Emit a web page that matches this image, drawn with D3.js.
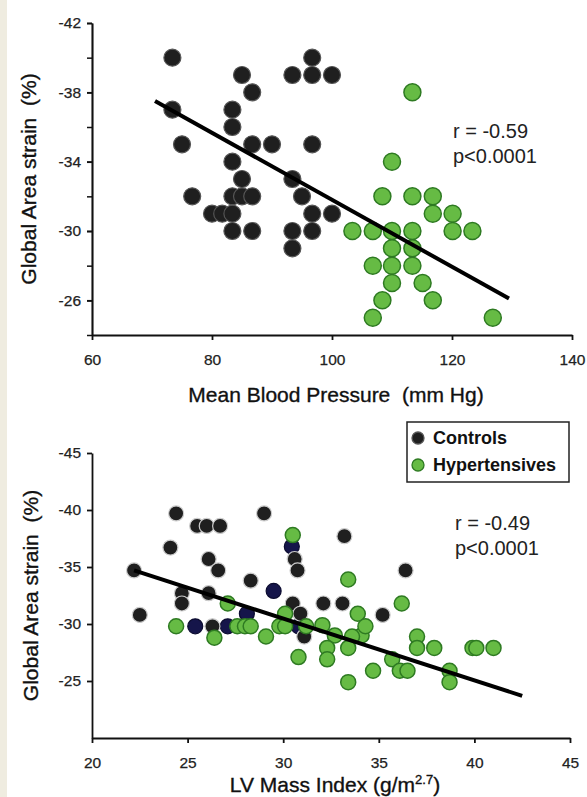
<!DOCTYPE html>
<html>
<head>
<meta charset="utf-8">
<script src="https://cdn.jsdelivr.net/npm/d3@7"></script>
<style>
  body { margin: 0; background: #fff; }
  svg { display: block; font-family: "Liberation Sans", Arial, sans-serif; }
  text { white-space: pre; }
</style>
</head>
<body>
<svg id="chart" width="587" height="797"></svg>
<script>
// top panel: mean blood pressure vs global area strain
const bpControls = [
  [73.4,-40],[85,-39],[93.4,-39],[96.7,-40],[96.7,-39],[100,-39],[86.7,-38],[73.4,-37],
  [83.4,-37],[83.4,-36],[75,-35],[86.7,-35],[90,-35],[96.7,-35],[83.4,-34],[85,-33],
  [93.4,-33],[76.7,-32],[83.4,-32],[85,-32],[86.7,-32],[95,-32],[80,-31],[81.7,-31],
  [83.4,-31],[96.7,-31],[100,-31],[83.4,-30],[86.7,-30],[93.4,-30],[96.7,-30],[93.4,-29]
];
const bpHypertensives = [
  [113.4,-38],[110,-34],[108.4,-32],[113.4,-32],[116.8,-32],[116.8,-31],[120.1,-31],
  [103.4,-30],[106.8,-30],[110,-30],[113.4,-30],[120.1,-30],[123.4,-30],[110,-29],
  [113.4,-29],[106.8,-28],[110,-28],[113.4,-28],[110,-27],[115.1,-27],[108.4,-26],
  [116.8,-26],[106.8,-25],[126.8,-25]
];
const bpFit = [[70.5,-37.5],[129.5,-26.1]];
const bpTicksX = [60,80,100,120,140];
const bpTicksY = [-42,-38,-34,-30,-26];
const bpMinorY = [-42,-40,-38,-36,-34,-32,-30,-28,-26,-24];
const bpStats = ["r = -0.59", "p<0.0001"];

// bottom panel: LV mass index vs global area strain
const lvControls = [
  [22.2,-34.7],[22.5,-30.8],[24.4,-39.7],[24.1,-36.7],[25.5,-38.6],[26,-38.6],[26.7,-38.6],
  [26.1,-35.7],[26.6,-34.7],[24.7,-32.7],[24.7,-31.8],[26.1,-32.7],[29,-39.7],[28.3,-33.8],
  [26.3,-29.8],[30.6,-35.7],[30.75,-34.7],[30.5,-31.8],[30.9,-30.9],[31.1,-28.9],
  [32.1,-31.8],[33.1,-31.8],[33.2,-37.7],[36.4,-34.7],[35.2,-30.8]
];
const lvHidden = [
  [25.4,-29.8],[27.1,-29.8],[29.5,-32.9],[30.45,-36.8],[28.1,-30.9],[30.8,-29.8]
];
const lvHypertensives = [
  [24.4,-29.8],[26.4,-28.8],[27.1,-31.8],[27.6,-29.8],[28,-29.8],[28.3,-29.8],[29.1,-28.9],
  [29.8,-29.8],[30.1,-30.9],[30.5,-37.8],[30.1,-29.8],[31.2,-29.8],[30.8,-27.1],[32.05,-29.9],
  [32.7,-29],[32.3,-27.9],[32.3,-26.9],[33.4,-33.9],[33.9,-30.9],[34.1,-29],[34.3,-29.8],
  [33.6,-28.9],[33.4,-27.9],[33.4,-24.9],[34.7,-25.9],[35.7,-26.9],[36.1,-25.9],[36.5,-25.9],
  [36.2,-31.8],[37,-28.9],[37,-27.9],[37.9,-27.9],[38.7,-25.9],[38.7,-24.9],[39.9,-27.9],
  [40.1,-27.9],[41,-27.9]
];
const lvFit = [[22.2,-34.7],[42.5,-23.7]];
const lvTicksX = [20,25,30,35,40,45];
const lvTicksY = [-45,-40,-35,-30,-25];
const lvStats = ["r = -0.49", "p<0.0001"];

const legendItems = ["Controls", "Hypertensives"];

const BLACK = "#1f1f1f", GREEN = "#66bb44", GREEN_EDGE = "#2e7a22", NAVY = "#15154a";

const svg = d3.select("#chart");
svg.append("rect").attr("width", 587).attr("height", 797).attr("fill", "#fff");
svg.append("rect").attr("width", 7).attr("height", 797).attr("fill", "#efece0");

function panel(cfg) {
  const x = d3.scaleLinear().domain(cfg.xDomain).range(cfg.xRange);
  const y = d3.scaleLinear().domain(cfg.yDomain).range(cfg.yRange);
  const g = svg.append("g");

  // minor y ticks
  if (cfg.minorY) {
    g.append("g").attr("transform", `translate(${cfg.xRange[0]},0)`)
      .call(d3.axisLeft(y).tickValues(cfg.minorY).tickSize(5).tickSizeOuter(0).tickFormat(""))
      .call(a => a.selectAll("line,path").attr("stroke", "#111").attr("stroke-width", 1.5));
  }
  const ya = g.append("g").attr("transform", `translate(${cfg.xRange[0]},0)`)
    .call(d3.axisLeft(y).tickValues(cfg.ticksY).tickSize(5).tickSizeOuter(0).tickPadding(6)
      .tickFormat(d => String(d)));
  const xa = g.append("g").attr("transform", `translate(0,${cfg.yRange[0]})`)
    .call(d3.axisBottom(x).tickValues(cfg.ticksX).tickSize(5).tickSizeOuter(0).tickPadding(14)
      .tickFormat(d => String(d)));
  [ya, xa].forEach(a => {
    a.selectAll("path,line").attr("stroke", "#111").attr("stroke-width", 1.8);
    a.selectAll("text").attr("fill", "#222").attr("font-size", 15.5)
      .attr("stroke", "#222").attr("stroke-width", 0.25)
      .attr("font-family", "Liberation Sans, Arial, sans-serif");
  });

  const r = cfg.r;
  cfg.layers.forEach(l => {
    g.append("g").selectAll("circle").data(l.data).enter().append("circle")
      .attr("cx", d => x(d[0])).attr("cy", d => y(d[1])).attr("r", r)
      .attr("fill", l.fill).attr("stroke", l.stroke).attr("stroke-width", l.sw);
  });

  g.append("line")
    .attr("x1", x(cfg.fit[0][0])).attr("y1", y(cfg.fit[0][1]))
    .attr("x2", x(cfg.fit[1][0])).attr("y2", y(cfg.fit[1][1]))
    .attr("stroke", "#000").attr("stroke-width", 4);

  g.selectAll(".stat").data(cfg.stats).enter().append("text")
    .attr("x", cfg.statX).attr("y", (d, i) => cfg.statY + i * 25)
    .attr("font-size", 20).attr("fill", "#222").text(d => d);

  const cx = (cfg.xRange[0] + cfg.xRange[1]) / 2;
  const xt = g.append("text").attr("x", cx + 4).attr("y", cfg.xTitleY)
    .attr("text-anchor", "middle").attr("font-size", 21).attr("fill", "#111")
    .attr("stroke", "#111").attr("stroke-width", 0.35);
  xt.append("tspan").text(cfg.xTitle);
  if (cfg.xSup) {
    xt.append("tspan").attr("font-size", 13).attr("dy", -8).text(cfg.xSup);
    xt.append("tspan").attr("dy", 8).text(")");
  }
  g.append("text")
    .attr("transform", `translate(${cfg.yTitleX},${(cfg.yRange[0] + cfg.yRange[1]) / 2}) rotate(-90)`)
    .attr("text-anchor", "middle").attr("font-size", 21).attr("fill", "#111")
    .attr("stroke", "#111").attr("stroke-width", 0.35)
    .text("Global Area strain  (%)");
  return { x, y, g };
}

panel({
  xDomain: [60, 140], xRange: [92, 572], yDomain: [-24, -42], yRange: [335, 23],
  ticksX: bpTicksX, ticksY: bpTicksY, minorY: bpMinorY, r: 8.5,
  layers: [
    { data: bpControls, fill: BLACK, stroke: "#555", sw: 1.2 },
    { data: bpHypertensives, fill: GREEN, stroke: GREEN_EDGE, sw: 1.5 }
  ],
  fit: bpFit, stats: bpStats, statX: 453, statY: 138,
  xTitle: "Mean Blood Pressure  (mm Hg)", xTitleY: 402, yTitleX: 36
});

panel({
  xDomain: [20, 45], xRange: [92, 570], yDomain: [-20, -45], yRange: [738, 453],
  ticksX: lvTicksX, ticksY: lvTicksY, r: 7.5,
  layers: [
    { data: lvHidden, fill: NAVY, stroke: "#0c0c30", sw: 1.2 },
    { data: lvControls, fill: BLACK, stroke: "#ccc", sw: 1.2 },
    { data: lvHypertensives, fill: GREEN, stroke: GREEN_EDGE, sw: 1.5 }
  ],
  fit: lvFit, stats: lvStats, statX: 455, statY: 530,
  xTitle: "LV Mass Index (g/m", xSup: "2.7", xTitleY: 792, yTitleX: 38
});

// legend
const lg = svg.append("g");
lg.append("rect").attr("x", 407).attr("y", 422).attr("width", 162).attr("height", 60)
  .attr("fill", "#fff").attr("stroke", "#222").attr("stroke-width", 1.5);
const li = lg.selectAll(".li").data(legendItems).enter().append("g")
  .attr("transform", (d, i) => `translate(418,${438 + i * 27})`);
li.append("circle").attr("r", 6)
  .attr("fill", (d, i) => i ? GREEN : BLACK)
  .attr("stroke", (d, i) => i ? GREEN_EDGE : "#555").attr("stroke-width", 1.3);
li.append("text").attr("x", 15).attr("y", 6).attr("font-size", 18).attr("font-weight", "bold")
  .attr("fill", "#111").text(d => d);
</script>
</body>
</html>
